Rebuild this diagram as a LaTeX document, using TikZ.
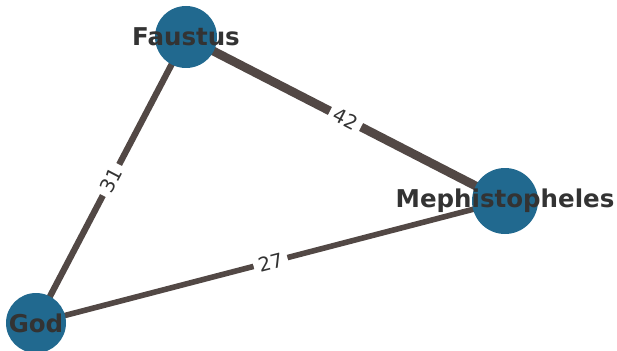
\documentclass[tikz,border=0pt]{standalone}
\usepackage{fontspec}
\setmainfont{DejaVu Sans}
\definecolor{nodeblue}{HTML}{21698F}
\definecolor{edgecol}{HTML}{524845}
\definecolor{txt}{HTML}{333333}
\tikzset{
  person/.style={circle,fill=nodeblue,minimum size=62pt,inner sep=0pt},
  personlabel/.style={text=txt,font=\fontsize{24.5}{24.5}\selectfont\bfseries,inner sep=0pt},
  link/.style={draw=edgecol},
  weight/.style={midway,sloped,fill=white,text=txt,font=\fontsize{19.5}{19.5}\selectfont,inner xsep=5pt,inner ysep=3pt}
}
\begin{document}
\begin{tikzpicture}[x=1pt,y=-1pt]
\useasboundingbox (0,0) rectangle (617,350);
\clip (0,0) rectangle (617,350);
\coordinate (F) at (186,37);
\coordinate (M) at (505,201);
\coordinate (G) at (36,323);
\draw[link,line width=8.8pt] (F) -- (M) node[weight] (l42) {42};
\draw[link,line width=6.3pt] (G) -- (F) node[weight] (l31) {31};
\draw[link,line width=5.6pt] (G) -- (M) node[weight] (l27) {27};
\node[person] (nF) at (F) {};
\node[person,minimum size=66pt] (nM) at (M) {};
\node[person,minimum size=60pt] (nG) at (G) {};
\node[personlabel] (tF) at (F) {Faustus};
\node[personlabel] (tM) at (M) {Mephistopheles};
\node[personlabel] (tG) at (G) {God};
\end{tikzpicture}
\end{document}
